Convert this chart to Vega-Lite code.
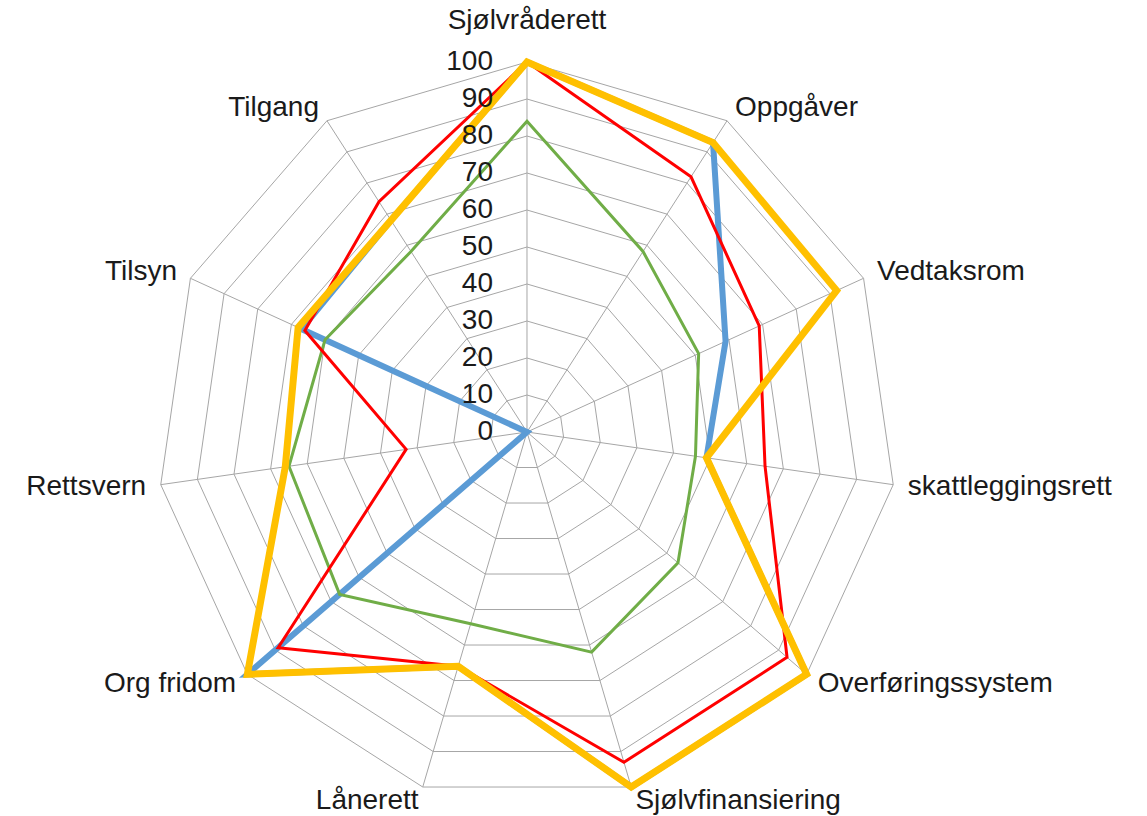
{
  "$schema": "https://vega.github.io/schema/vega-lite/v6.json",
  "width": 1147,
  "height": 816,
  "autosize": {"type": "none"},
  "padding": 0,
  "background": "white",
  "config": {"view": {"stroke": null}},
  "datasets": {
    "axes": [
      {"axis": "Sjølvråderett", "index": 0, "levels": [10,20,30,40,50,60,70,80,90,100]},
      {"axis": "Oppgåver", "index": 1, "levels": [10,20,30,40,50,60,70,80,90,100]},
      {"axis": "Vedtaksrom", "index": 2, "levels": [10,20,30,40,50,60,70,80,90,100]},
      {"axis": "skattleggingsrett", "index": 3, "levels": [10,20,30,40,50,60,70,80,90,100]},
      {"axis": "Overføringssystem", "index": 4, "levels": [10,20,30,40,50,60,70,80,90,100]},
      {"axis": "Sjølvfinansiering", "index": 5, "levels": [10,20,30,40,50,60,70,80,90,100]},
      {"axis": "Lånerett", "index": 6, "levels": [10,20,30,40,50,60,70,80,90,100]},
      {"axis": "Org fridom", "index": 7, "levels": [10,20,30,40,50,60,70,80,90,100]},
      {"axis": "Rettsvern", "index": 8, "levels": [10,20,30,40,50,60,70,80,90,100]},
      {"axis": "Tilsyn", "index": 9, "levels": [10,20,30,40,50,60,70,80,90,100]},
      {"axis": "Tilgang", "index": 10, "levels": [10,20,30,40,50,60,70,80,90,100]}
    ],
    "ticks": [
      {"level": 0}, {"level": 10}, {"level": 20}, {"level": 30}, {"level": 40}, {"level": 50},
      {"level": 60}, {"level": 70}, {"level": 80}, {"level": 90}, {"level": 100}
    ],
    "scores": [
      {"series": "Serie 1", "index": 0, "value": 100},
      {"series": "Serie 1", "index": 1, "value": 93},
      {"series": "Serie 1", "index": 2, "value": 59},
      {"series": "Serie 1", "index": 3, "value": 49},
      {"series": "Serie 1", "index": 4, "value": 100},
      {"series": "Serie 1", "index": 5, "value": 100},
      {"series": "Serie 1", "index": 6, "value": 66},
      {"series": "Serie 1", "index": 7, "value": 100},
      {"series": "Serie 1", "index": 8, "value": 0},
      {"series": "Serie 1", "index": 9, "value": 67},
      {"series": "Serie 1", "index": 10, "value": 68},
      {"series": "Serie 2", "index": 0, "value": 100},
      {"series": "Serie 2", "index": 1, "value": 82},
      {"series": "Serie 2", "index": 2, "value": 69},
      {"series": "Serie 2", "index": 3, "value": 65},
      {"series": "Serie 2", "index": 4, "value": 93},
      {"series": "Serie 2", "index": 5, "value": 93},
      {"series": "Serie 2", "index": 6, "value": 66},
      {"series": "Serie 2", "index": 7, "value": 89},
      {"series": "Serie 2", "index": 8, "value": 33},
      {"series": "Serie 2", "index": 9, "value": 66},
      {"series": "Serie 2", "index": 10, "value": 74},
      {"series": "Serie 3", "index": 0, "value": 84},
      {"series": "Serie 3", "index": 1, "value": 58},
      {"series": "Serie 3", "index": 2, "value": 51},
      {"series": "Serie 3", "index": 3, "value": 46},
      {"series": "Serie 3", "index": 4, "value": 54},
      {"series": "Serie 3", "index": 5, "value": 62},
      {"series": "Serie 3", "index": 6, "value": 54},
      {"series": "Serie 3", "index": 7, "value": 67},
      {"series": "Serie 3", "index": 8, "value": 65},
      {"series": "Serie 3", "index": 9, "value": 60},
      {"series": "Serie 3", "index": 10, "value": 58},
      {"series": "Serie 4", "index": 0, "value": 100},
      {"series": "Serie 4", "index": 1, "value": 93},
      {"series": "Serie 4", "index": 2, "value": 92},
      {"series": "Serie 4", "index": 3, "value": 49},
      {"series": "Serie 4", "index": 4, "value": 100},
      {"series": "Serie 4", "index": 5, "value": 100},
      {"series": "Serie 4", "index": 6, "value": 66},
      {"series": "Serie 4", "index": 7, "value": 100},
      {"series": "Serie 4", "index": 8, "value": 66},
      {"series": "Serie 4", "index": 9, "value": 68},
      {"series": "Serie 4", "index": 10, "value": 68}
    ]
  },
  "layer": [
    {
      "data": {"name": "axes"},
      "transform": [
        {"flatten": ["levels"], "as": ["level"]},
        {"calculate": "datum.index * 2 * PI / 11", "as": "angle"},
        {"calculate": "datum.level * sin(datum.angle)", "as": "x"},
        {"calculate": "datum.level * cos(datum.angle)", "as": "y"}
      ],
      "mark": {"type": "line", "interpolate": "linear-closed", "stroke": "#a6a6a6", "strokeWidth": 1},
      "encoding": {
        "x": {"field": "x", "type": "quantitative", "scale": {"domain": [-142.43, 167.57], "nice": false, "zero": false}, "axis": null},
        "y": {"field": "y", "type": "quantitative", "scale": {"domain": [-103.78, 116.76], "nice": false, "zero": false}, "axis": null},
        "detail": {"field": "level", "type": "nominal"},
        "order": {"field": "index", "type": "quantitative"}
      }
    },
    {
      "data": {"name": "axes"},
      "transform": [
        {"calculate": "datum.index * 2 * PI / 11", "as": "angle"},
        {"calculate": "0", "as": "x0"},
        {"calculate": "0", "as": "y0"},
        {"calculate": "100 * sin(datum.angle)", "as": "x1"},
        {"calculate": "100 * cos(datum.angle)", "as": "y1"}
      ],
      "mark": {"type": "rule", "stroke": "#a6a6a6", "strokeWidth": 1},
      "encoding": {
        "x": {"field": "x0", "type": "quantitative", "scale": {"domain": [-142.43, 167.57], "nice": false, "zero": false}, "axis": null},
        "y": {"field": "y0", "type": "quantitative", "scale": {"domain": [-103.78, 116.76], "nice": false, "zero": false}, "axis": null},
        "x2": {"field": "x1"},
        "y2": {"field": "y1"}
      }
    },
    {
      "data": {"name": "scores"},
      "transform": [
        {"filter": "datum.series == 'Serie 1'"},
        {"calculate": "datum.index * 2 * PI / 11", "as": "angle"},
        {"calculate": "datum.value * sin(datum.angle)", "as": "x"},
        {"calculate": "datum.value * cos(datum.angle)", "as": "y"}
      ],
      "mark": {"type": "line", "interpolate": "linear-closed", "stroke": "#5B9BD5", "strokeWidth": 6},
      "encoding": {
        "x": {"field": "x", "type": "quantitative", "scale": {"domain": [-142.43, 167.57], "nice": false, "zero": false}, "axis": null},
        "y": {"field": "y", "type": "quantitative", "scale": {"domain": [-103.78, 116.76], "nice": false, "zero": false}, "axis": null},
        "order": {"field": "index", "type": "quantitative"}
      }
    },
    {
      "data": {"name": "scores"},
      "transform": [
        {"filter": "datum.series == 'Serie 3'"},
        {"calculate": "datum.index * 2 * PI / 11", "as": "angle"},
        {"calculate": "datum.value * sin(datum.angle)", "as": "x"},
        {"calculate": "datum.value * cos(datum.angle)", "as": "y"}
      ],
      "mark": {"type": "line", "interpolate": "linear-closed", "stroke": "#70AD47", "strokeWidth": 3},
      "encoding": {
        "x": {"field": "x", "type": "quantitative", "scale": {"domain": [-142.43, 167.57], "nice": false, "zero": false}, "axis": null},
        "y": {"field": "y", "type": "quantitative", "scale": {"domain": [-103.78, 116.76], "nice": false, "zero": false}, "axis": null},
        "order": {"field": "index", "type": "quantitative"}
      }
    },
    {
      "data": {"name": "scores"},
      "transform": [
        {"filter": "datum.series == 'Serie 2'"},
        {"calculate": "datum.index * 2 * PI / 11", "as": "angle"},
        {"calculate": "datum.value * sin(datum.angle)", "as": "x"},
        {"calculate": "datum.value * cos(datum.angle)", "as": "y"}
      ],
      "mark": {"type": "line", "interpolate": "linear-closed", "stroke": "#FF0000", "strokeWidth": 3},
      "encoding": {
        "x": {"field": "x", "type": "quantitative", "scale": {"domain": [-142.43, 167.57], "nice": false, "zero": false}, "axis": null},
        "y": {"field": "y", "type": "quantitative", "scale": {"domain": [-103.78, 116.76], "nice": false, "zero": false}, "axis": null},
        "order": {"field": "index", "type": "quantitative"}
      }
    },
    {
      "data": {"name": "scores"},
      "transform": [
        {"filter": "datum.series == 'Serie 4'"},
        {"calculate": "datum.index * 2 * PI / 11", "as": "angle"},
        {"calculate": "datum.value * sin(datum.angle)", "as": "x"},
        {"calculate": "datum.value * cos(datum.angle)", "as": "y"}
      ],
      "mark": {"type": "line", "interpolate": "linear-closed", "stroke": "#FFC000", "strokeWidth": 7},
      "encoding": {
        "x": {"field": "x", "type": "quantitative", "scale": {"domain": [-142.43, 167.57], "nice": false, "zero": false}, "axis": null},
        "y": {"field": "y", "type": "quantitative", "scale": {"domain": [-103.78, 116.76], "nice": false, "zero": false}, "axis": null},
        "order": {"field": "index", "type": "quantitative"}
      }
    },
    {
      "data": {"name": "ticks"},
      "transform": [{"calculate": "0", "as": "x"}],
      "mark": {"type": "text", "align": "right", "baseline": "middle", "dx": -34, "font": "Liberation Sans", "fontSize": 28, "fill": "#1a1a1a"},
      "encoding": {
        "x": {"field": "x", "type": "quantitative", "scale": {"domain": [-142.43, 167.57], "nice": false, "zero": false}, "axis": null},
        "y": {"field": "level", "type": "quantitative", "scale": {"domain": [-103.78, 116.76], "nice": false, "zero": false}, "axis": null},
        "text": {"field": "level", "type": "quantitative"}
      }
    },
    {
      "data": {"name": "axes"},
      "transform": [
        {"filter": "datum.index == 0"},
        {"calculate": "datum.index * 2 * PI / 11", "as": "angle"},
        {"calculate": "111 * sin(datum.angle)", "as": "x"},
        {"calculate": "111 * cos(datum.angle)", "as": "y"}
      ],
      "mark": {"type": "text", "align": "center", "baseline": "middle", "font": "Liberation Sans", "fontSize": 28, "fill": "#1a1a1a"},
      "encoding": {
        "x": {"field": "x", "type": "quantitative", "scale": {"domain": [-142.43, 167.57], "nice": false, "zero": false}, "axis": null},
        "y": {"field": "y", "type": "quantitative", "scale": {"domain": [-103.78, 116.76], "nice": false, "zero": false}, "axis": null},
        "text": {"field": "axis", "type": "nominal"}
      }
    },
    {
      "data": {"name": "axes"},
      "transform": [
        {"filter": "datum.index >= 1 && datum.index <= 5"},
        {"calculate": "datum.index * 2 * PI / 11", "as": "angle"},
        {"calculate": "104 * sin(datum.angle)", "as": "x"},
        {"calculate": "104 * cos(datum.angle)", "as": "y"}
      ],
      "mark": {"type": "text", "align": "left", "baseline": "middle", "font": "Liberation Sans", "fontSize": 28, "fill": "#1a1a1a"},
      "encoding": {
        "x": {"field": "x", "type": "quantitative", "scale": {"domain": [-142.43, 167.57], "nice": false, "zero": false}, "axis": null},
        "y": {"field": "y", "type": "quantitative", "scale": {"domain": [-103.78, 116.76], "nice": false, "zero": false}, "axis": null},
        "text": {"field": "axis", "type": "nominal"}
      }
    },
    {
      "data": {"name": "axes"},
      "transform": [
        {"filter": "datum.index >= 6"},
        {"calculate": "datum.index * 2 * PI / 11", "as": "angle"},
        {"calculate": "104 * sin(datum.angle)", "as": "x"},
        {"calculate": "104 * cos(datum.angle)", "as": "y"}
      ],
      "mark": {"type": "text", "align": "right", "baseline": "middle", "font": "Liberation Sans", "fontSize": 28, "fill": "#1a1a1a"},
      "encoding": {
        "x": {"field": "x", "type": "quantitative", "scale": {"domain": [-142.43, 167.57], "nice": false, "zero": false}, "axis": null},
        "y": {"field": "y", "type": "quantitative", "scale": {"domain": [-103.78, 116.76], "nice": false, "zero": false}, "axis": null},
        "text": {"field": "axis", "type": "nominal"}
      }
    }
  ]
}
